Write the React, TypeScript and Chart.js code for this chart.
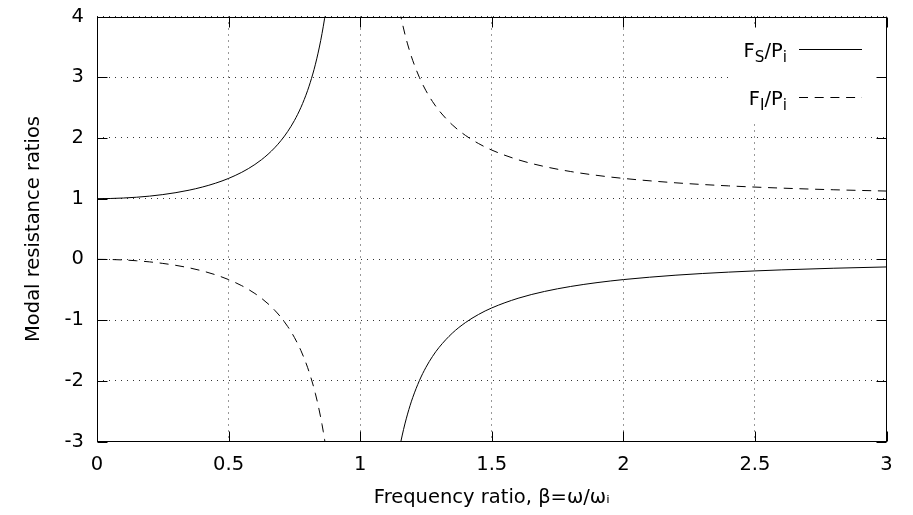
import React, { useEffect, useRef } from 'react';
import { Chart, registerables } from 'chart.js';

Chart.register(...registerables);

// ---- data ----
const betaBelow = [0, 0.05, 0.1, 0.15, 0.2, 0.25, 0.3, 0.35, 0.4, 0.45, 0.5, 0.55, 0.575, 0.6, 0.625, 0.65, 0.675, 0.7, 0.725, 0.75, 0.775, 0.8, 0.82, 0.83, 0.84, 0.85, 0.855, 0.86, 0.865, 0.87];
const fsBelow = [1, 1.0025, 1.0101, 1.023, 1.0417, 1.0667, 1.0989, 1.1396, 1.1905, 1.2539, 1.3333, 1.4337, 1.4939, 1.5625, 1.641, 1.7316, 1.837, 1.9608, 2.108, 2.2857, 2.5039, 2.7778, 3.0525, 3.2144, 3.3967, 3.6036, 3.7178, 3.8402, 3.9718, 4.1135];
const fiBelow = [0, -0.0025, -0.0101, -0.023, -0.0417, -0.0667, -0.0989, -0.1396, -0.1905, -0.2539, -0.3333, -0.4337, -0.4939, -0.5625, -0.641, -0.7316, -0.837, -0.9608, -1.108, -1.2857, -1.5039, -1.7778, -2.0525, -2.2144, -2.3967, -2.6036, -2.7178, -2.8402, -2.9718, -3.1135];

const betaAbove = [1.15, 1.155, 1.16, 1.17, 1.18, 1.19, 1.2, 1.225, 1.25, 1.275, 1.3, 1.35, 1.4, 1.45, 1.5, 1.6, 1.7, 1.8, 1.9, 2.0, 2.2, 2.4, 2.6, 2.8, 3.0];
const fsAbove = [-3.1008, -2.9938, -2.8935, -2.7108, -2.5484, -2.4033, -2.2727, -1.9975, -1.7778, -1.5984, -1.4493, -1.2158, -1.0417, -0.907, -0.8, -0.641, -0.5291, -0.4464, -0.3831, -0.3333, -0.2604, -0.2101, -0.1736, -0.1462, -0.125];
const fiAbove = [4.1008, 3.9938, 3.8935, 3.7108, 3.5484, 3.4033, 3.2727, 2.9975, 2.7778, 2.5984, 2.4493, 2.2158, 2.0417, 1.907, 1.8, 1.641, 1.5291, 1.4464, 1.3831, 1.3333, 1.2604, 1.2101, 1.1736, 1.1462, 1.125];

const seriesNames = ['F_S/P_i', 'F_I/P_i'];
const xTitle = 'Frequency ratio, β=ω/ωᵢ';
const yTitle = 'Modal resistance ratios';
const xMin = 0, xMax = 3, xStep = 0.5;
const yMin = -3, yMax = 4, yStep = 1;

const FONT = '"DejaVu Sans", sans-serif';
const FONT_SIZE = 19.5;
const DASH = [9, 6.7];

const zip = (xs: number[], ys: number[]) => xs.map((x, i) => ({ x, y: ys[i] }));

function drawSubText(ctx: CanvasRenderingContext2D, text: string, rightX: number, baseY: number) {
  const pieces: { t: string; sub: boolean }[] = [];
  let i = 0;
  let cur = '';
  while (i < text.length) {
    if (text[i] === '_' && i + 1 < text.length) {
      if (cur) pieces.push({ t: cur, sub: false });
      cur = '';
      pieces.push({ t: text[i + 1], sub: true });
      i += 2;
    } else {
      cur += text[i];
      i++;
    }
  }
  if (cur) pieces.push({ t: cur, sub: false });
  const mainFont = `${FONT_SIZE}px ${FONT}`;
  const subFont = `${FONT_SIZE * 0.78}px ${FONT}`;
  let total = 0;
  const widths = pieces.map((p) => {
    ctx.font = p.sub ? subFont : mainFont;
    const w = ctx.measureText(p.t).width;
    total += w;
    return w;
  });
  let x = rightX - total;
  ctx.textAlign = 'left';
  ctx.textBaseline = 'alphabetic';
  ctx.fillStyle = '#000';
  pieces.forEach((p, k) => {
    ctx.font = p.sub ? subFont : mainFont;
    ctx.fillText(p.t, x, p.sub ? baseY + 5 : baseY);
    x += widths[k];
  });
}

const gnuplotPlugin = {
  id: 'gnuplotFrame',
  beforeDatasetsDraw(chart: any) {
    const { ctx, chartArea } = chart;
    ctx.save();
    ctx.fillStyle = '#fff';
    ctx.fillRect(chartArea.right - 154, chartArea.top + 10, 141, 95);
    ctx.restore();
  },
  afterDatasetsDraw(chart: any) {
    const { ctx, chartArea, scales } = chart;
    const L = Math.round(chartArea.left) + 0.5;
    const R = Math.round(chartArea.right) - 0.5;
    const T = Math.round(chartArea.top) + 0.5;
    const B = Math.round(chartArea.bottom) - 0.5;
    ctx.save();
    ctx.strokeStyle = '#000';
    ctx.lineWidth = 1;
    ctx.setLineDash([]);
    ctx.strokeRect(L, T, R - L, B - T);
    const tl = 10;
    ctx.beginPath();
    scales.x.ticks.forEach((t: any) => {
      const px = Math.round(scales.x.getPixelForValue(t.value)) + 0.5;
      ctx.moveTo(px, B); ctx.lineTo(px, B - tl);
      ctx.moveTo(px, T); ctx.lineTo(px, T + tl);
    });
    scales.y.ticks.forEach((t: any) => {
      const py = Math.round(scales.y.getPixelForValue(t.value)) + 0.5;
      ctx.moveTo(L, py); ctx.lineTo(L + tl, py);
      ctx.moveTo(R, py); ctx.lineTo(R - tl, py);
    });
    ctx.stroke();

    seriesNames.forEach((name, k) => {
      const ly = Math.round(chartArea.top + 32.5 + k * 48) + 0.5;
      drawSubText(ctx, name, chartArea.right - 99.5, ly + 7);
      ctx.beginPath();
      ctx.setLineDash(k === 0 ? [] : DASH);
      ctx.moveTo(chartArea.right - 87.5, ly);
      ctx.lineTo(chartArea.right - 24.5, ly);
      ctx.stroke();
    });
    ctx.restore();
  },
};

export default function App() {
  const ref = useRef<HTMLCanvasElement | null>(null);
  useEffect(() => {
    if (!ref.current) return;
    Chart.defaults.font.family = FONT;
    Chart.defaults.color = '#000';
    const common = { borderColor: '#000', borderWidth: 1, pointRadius: 0, fill: false, clip: 0, cubicInterpolationMode: 'monotone' as const };
    const chart = new Chart(ref.current, {
      type: 'line',
      data: {
        datasets: [
          { ...common, label: seriesNames[0], data: zip(betaBelow, fsBelow) },
          { ...common, label: seriesNames[0] + ' ', data: zip(betaAbove, fsAbove) },
          { ...common, label: seriesNames[1], data: zip(betaBelow, fiBelow), borderDash: DASH },
          { ...common, label: seriesNames[1] + ' ', data: zip(betaAbove, fiAbove), borderDash: DASH },
        ],
      },
      options: {
        responsive: false,
        animation: false,
        events: [],
        layout: { padding: { left: 0, right: 26.5, top: 16.5, bottom: 0 } },
        plugins: { legend: { display: false }, tooltip: { enabled: false } },
        scales: {
          x: {
            type: 'linear',
            min: xMin,
            max: xMax,
            ticks: { stepSize: xStep, padding: 11.5, font: { size: FONT_SIZE }, color: '#000', maxRotation: 0, callback: (v: any) => String(Number(v)) },
            grid: { color: 'rgba(0,0,0,0.8)', lineWidth: 1, drawTicks: false },
            border: { display: false, dash: [1, 5] },
            title: { display: true, text: xTitle, font: { size: FONT_SIZE }, color: '#000', padding: { top: 0, bottom: 5 } },
            afterFit: (s: any) => { s.height = 73.5; s.paddingLeft = 0; s.paddingRight = 0; },
          },
          y: {
            type: 'linear',
            min: yMin,
            max: yMax,
            ticks: { stepSize: yStep, padding: 13, font: { size: FONT_SIZE }, color: '#000' },
            grid: { color: 'rgba(0,0,0,0.8)', lineWidth: 1, drawTicks: false },
            border: { display: false, dash: [1, 5] },
            title: { display: true, text: yTitle, font: { size: FONT_SIZE }, color: '#000', padding: { top: 22.5, bottom: 0 } },
            afterFit: (s: any) => { s.width = 97; s.paddingTop = 0; s.paddingBottom = 0; },
          },
        },
      },
      plugins: [gnuplotPlugin],
    } as any);
    return () => chart.destroy();
  }, []);
  return (
    <div style={{ position: 'absolute', left: 0, top: 0, width: 913, height: 515, background: '#fff' }}>
      <canvas ref={ref} width={913} height={515} style={{ display: 'block', width: 913, height: 515 }} />
    </div>
  );
}
